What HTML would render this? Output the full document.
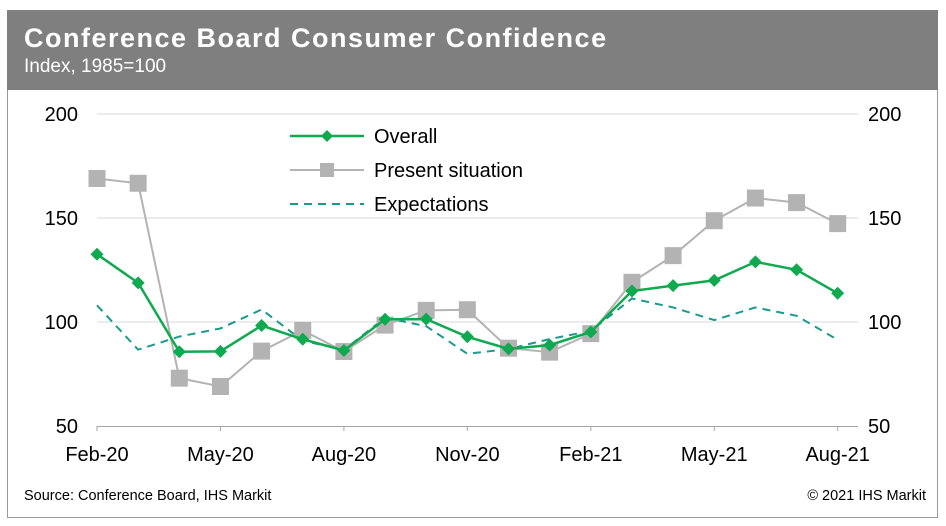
<!DOCTYPE html>
<html><head><meta charset="utf-8"><style>
body{margin:0;background:#fff;font-family:"Liberation Sans",Arial,sans-serif;}
#wrap{position:relative;width:946px;height:526px;overflow:hidden;}
</style></head><body>
<div id="wrap">
<svg id="chart" width="946" height="526"></svg>
</div>
<script>
const months=["Feb-20","Mar-20","Apr-20","May-20","Jun-20","Jul-20","Aug-20","Sep-20","Oct-20","Nov-20","Dec-20","Jan-21","Feb-21","Mar-21","Apr-21","May-21","Jun-21","Jul-21","Aug-21"];
const overall=[132.6,118.8,85.7,85.9,98.3,91.7,86.3,101.3,101.4,92.9,87.1,88.9,95.2,114.9,117.5,120.0,128.9,125.1,113.8];
const present=[169,166.7,73,69,86,96,85.8,98.5,105.6,105.9,87.4,85.5,94.4,119.1,131.9,148.7,159.6,157.4,147.3];
const expectations=[108,86.7,93,96.9,106,91,86.6,102,98,84.7,87,91.8,95.7,111.3,107,100.9,107,103,91.4];
const yTicks=[50,100,150,200];
const xLabelIdx=[0,3,6,9,12,15,18];
const NS="http://www.w3.org/2000/svg";
const svg=document.getElementById('chart');
function el(t,a,p){const e=document.createElementNS(NS,t);for(const k in a)e.setAttribute(k,a[k]);(p||svg).appendChild(e);return e;}
const x0=97,dx=41.15;
function X(i){return x0+i*dx;}
function Y(v){return 426-(v-50)*2.08;}
let f=el('rect',{x:7.5,y:10.5,width:930,height:507,fill:'#fff',stroke:'#9a9a9a','stroke-width':1});

let h=el('rect',{x:7,y:10,width:931,height:80,fill:'#7f7f7f'});

let t=el('text',{x:24,y:47,fill:'#fff','font-size':27,'font-weight':'bold','letter-spacing':'1.5'});t.textContent='Conference Board Consumer Confidence';

let st=el('text',{x:24,y:72,fill:'#fff','font-size':19});st.textContent='Index, 1985=100';

yTicks.forEach(v=>{
 if(v>50){let g=el('line',{x1:97,x2:858,y1:Y(v),y2:Y(v),stroke:'#d9d9d9','stroke-width':1});
 }
 let a=el('text',{x:78,y:Y(v)+7,'font-size':20,'text-anchor':'end',fill:'#000'});a.textContent=v;
 
 let b=el('text',{x:868,y:Y(v)+7,'font-size':20,'text-anchor':'start',fill:'#000'});b.textContent=v;
 
});
let ax=el('line',{x1:97,x2:858,y1:426.5,y2:426.5,stroke:'#a6a6a6','stroke-width':1});

xLabelIdx.forEach(i=>{
 let tk=el('line',{x1:X(i),x2:X(i),y1:426,y2:431,stroke:'#a6a6a6'});
 
 let l=el('text',{x:X(i),y:461,'font-size':20,'text-anchor':'middle',fill:'#000'});l.textContent=months[i];
 
});
function pts(arr){return arr.map((v,i)=>X(i)+','+Y(v)).join(' ');}
let pe=el('polyline',{points:pts(expectations),fill:'none',stroke:'#1a9a8a','stroke-width':2,'stroke-dasharray':'8,6'});

let pp=el('polyline',{points:pts(present),fill:'none',stroke:'#b3b3b3','stroke-width':2});

present.forEach((v,i)=>{let r=el('rect',{x:X(i)-8.5,y:Y(v)-8.5,width:17,height:17,fill:'#b3b3b3'});
 });
let po=el('polyline',{points:pts(overall),fill:'none',stroke:'#0fa94f','stroke-width':2.5});

overall.forEach((v,i)=>{let d=el('polygon',{points:`${X(i)},${Y(v)-6.5} ${X(i)+6.5},${Y(v)} ${X(i)},${Y(v)+6.5} ${X(i)-6.5},${Y(v)}`,fill:'#0fa94f'});
 });
let lg=el('g',{});
el('line',{x1:290,x2:364,y1:136,y2:136,stroke:'#0fa94f','stroke-width':2.5},lg);
el('polygon',{points:'327,130 333,136 327,142 321,136',fill:'#0fa94f'},lg);
el('line',{x1:290,x2:364,y1:170,y2:170,stroke:'#b3b3b3','stroke-width':2},lg);
el('rect',{x:320,y:163,width:14,height:14,fill:'#b3b3b3'},lg);
el('line',{x1:290,x2:364,y1:204,y2:204,stroke:'#1a9a8a','stroke-width':2,'stroke-dasharray':'8,6'},lg);
[['Overall',143],['Present situation',177],['Expectations',211]].forEach(([s,y])=>{
 let tt=el('text',{x:374,y:y,'font-size':20,fill:'#000'},lg);tt.textContent=s;
 });
let src=el('text',{x:24,y:500,'font-size':14.5,fill:'#000'});src.textContent='Source:  Conference Board, IHS Markit';

let cp=el('text',{x:926,y:500,'font-size':14.5,fill:'#000','text-anchor':'end'});cp.textContent='© 2021  IHS Markit';

</script>
</body></html>
